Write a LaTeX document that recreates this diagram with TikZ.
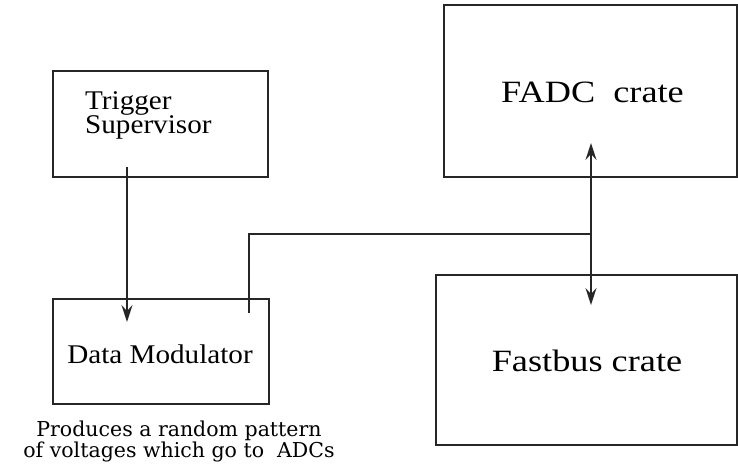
\documentclass[tikz,border=0pt]{standalone}
\usepackage{fontspec}
\setmainfont{Liberation Serif}
\newfontfamily\cratefont[FakeStretch=1.17]{Liberation Serif}
\newfontfamily\boxfont[FakeStretch=1.08]{Liberation Serif}
\newfontfamily\capfont{DejaVu Serif}
\usetikzlibrary{arrows.meta}
\begin{document}
\begin{tikzpicture}[x=1pt,y=-1pt,
  blk/.style={draw=black!85, line width=1.6pt, inner sep=0pt, outer sep=0pt},
  ln/.style={draw=black!85, line width=1.6pt},
  boxtxt/.style={inner sep=0pt, font={\boxfont\fontsize{27}{24}\selectfont}},
  cratetxt/.style={inner sep=0pt, anchor=base, font={\cratefont\fontsize{31}{31}\selectfont}},
  captxt/.style={inner sep=0pt, anchor=base, font={\capfont\fontsize{20.5}{20.5}\selectfont}}
]
\useasboundingbox (0,0) rectangle (738,469);
\fill[white] (0,0) rectangle (738,469);

% boxes
\node[blk, minimum width=215pt, minimum height=106pt] (trig) at (160.5,124) {};
\node[blk, minimum width=216pt, minimum height=105pt] (dm) at (161,351.5) {};
\node[blk, minimum width=293pt, minimum height=172pt] (fadc) at (590.5,91) {};
\node[blk, minimum width=301pt, minimum height=170pt] (fast) at (586.5,360) {};

% texts
\node[boxtxt, anchor=north west, align=left] (tt) at (85,91) {Trigger\\Supervisor};
\node[boxtxt, anchor=base] (dmt) at (160,363) {Data Modulator};
\node[cratetxt] (ft) at (592.5,102) {FADC\ \ crate};
\node[cratetxt] (fbt) at (587,371) {Fastbus crate};
\node[captxt] (cap1) at (179,436) {Produces a random pattern};
\node[captxt] (cap2) at (179,457) {of voltages which go to\ \ ADCs};

% connector points
\coordinate (a1) at (127,167);
\coordinate (a2) at (127,322);
\coordinate (b1) at (249,313);
\coordinate (b3) at (591,234);
\coordinate (c1) at (591,143);
\coordinate (c2) at (591,305);

% connectors
\draw[ln, -{Stealth[length=17pt,width=11pt,inset=6pt]}] (a1) -- (a2);
\draw[ln] (b1) |- (b3);
\draw[ln, {Stealth[length=17pt,width=11pt,inset=6pt]}-{Stealth[length=17pt,width=11pt,inset=6pt]}] (c1) -- (c2);
\end{tikzpicture}
\end{document}
